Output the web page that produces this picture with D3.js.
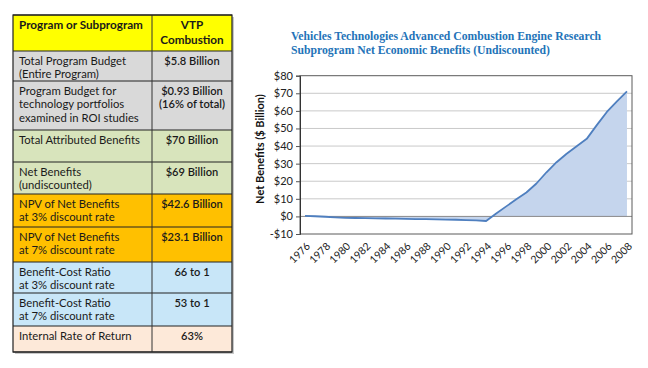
<!DOCTYPE html>
<html>
<head>
<meta charset="utf-8">
<script src="https://cdn.jsdelivr.net/npm/d3@7"></script>
<style>
  html, body { margin: 0; padding: 0; background: #ffffff; }
  svg { display: block; }
</style>
</head>
<body>
<svg id="chart" width="648" height="368"></svg>
<script>
// ---------------- DATA ----------------
const tableHeader = [["Program or Subprogram"], ["VTP", "Combustion"]];
const rowLabels = [
  ["Total Program Budget", "(Entire Program)"],
  ["Program Budget for", "technology portfolios", "examined in ROI studies"],
  ["Total Attributed Benefits"],
  ["Net Benefits", "(undiscounted)"],
  ["NPV of Net Benefits", "at 3% discount rate"],
  ["NPV of Net Benefits", "at 7% discount rate"],
  ["Benefit-Cost Ratio", "at 3% discount rate"],
  ["Benefit-Cost Ratio", "at 7% discount rate"],
  ["Internal Rate of Return"]
];
const rowValues = [
  ["$5.8 Billion"],
  ["$0.93 Billion", "(16% of total)"],
  ["$70 Billion"],
  ["$69 Billion"],
  ["$42.6 Billion"],
  ["$23.1 Billion"],
  ["66 to 1"],
  ["53 to 1"],
  ["63%"]
];
const rowGroups = ["budget", "budget", "benefits", "benefits", "npv", "npv", "ratio", "ratio", "irr"];

const chartTitle = [
  "Vehicles Technologies Advanced Combustion Engine Research",
  "Subprogram Net Economic Benefits (Undiscounted)"
];
const yAxisTitle = "Net Benefits ($ Billion)";
const years = [1976, 1977, 1978, 1979, 1980, 1981, 1982, 1983, 1984, 1985, 1986,
  1987, 1988, 1989, 1990, 1991, 1992, 1993, 1994, 1995, 1996, 1997, 1998, 1999,
  2000, 2001, 2002, 2003, 2004, 2005, 2006, 2007, 2008];
const netBenefits = [0.3, 0.1, -0.2, -0.5, -0.8, -0.9, -1.0, -1.1, -1.2, -1.3, -1.4,
  -1.5, -1.6, -1.7, -1.8, -1.9, -2.1, -2.3, -2.6, 1.7, 5.7, 9.7, 13.6, 18.7,
  25.1, 30.8, 35.6, 39.9, 44.1, 51.9, 59.4, 65.4, 71.1];
const yTicks = [-10, 0, 10, 20, 30, 40, 50, 60, 70, 80];
const xTickYears = [1976, 1978, 1980, 1982, 1984, 1986, 1988, 1990, 1992, 1994,
  1996, 1998, 2000, 2002, 2004, 2006, 2008];

// ---------------- LAYOUT / STYLE ----------------
const svg = d3.select("#chart");
const tableFont = "Lato, 'Open Sans', sans-serif";
const groupColors = {
  header: "#ffff00", budget: "#d9d9d9", benefits: "#d8e4bc",
  npv: "#ffc000", ratio: "#c8e6f8", irr: "#fde9d9"
};
const tLeft = 13, tDiv = 152, tRight = 232;
const rowTops = [15, 51, 81, 130, 162, 194, 227, 262, 293, 326, 352];
const lineStep = 13.6;

const table = svg.append("g");
// shadow
table.append("rect").attr("x", tLeft + 2).attr("y", rowTops[0] + 2)
  .attr("width", tRight - tLeft).attr("height", rowTops[rowTops.length - 1] - rowTops[0])
  .attr("fill", "#c8c8c8");

const allRows = [{ label: tableHeader[0], value: tableHeader[1], group: "header" }]
  .concat(rowLabels.map((l, i) => ({ label: l, value: rowValues[i], group: rowGroups[i] })));

allRows.forEach((r, i) => {
  const top = rowTops[i], h = rowTops[i + 1] - rowTops[i];
  table.append("rect").attr("x", tLeft).attr("y", top).attr("width", tRight - tLeft)
    .attr("height", h).attr("fill", groupColors[r.group]);
  const bold = r.group === "header";
  const weight = bold ? 700 : 400;
  table.append("text").attr("font-family", tableFont).attr("font-size", bold ? 11.7 : 11.3)
    .attr("font-weight", weight).attr("fill", "#1a1a1a")
    .selectAll("tspan").data(r.label).join("tspan")
    .attr("x", tLeft + 6).attr("y", (d, j) => top + 9.3 + j * lineStep)
    .attr("dominant-baseline", "central").text(d => d);
  table.append("text").attr("font-family", tableFont).attr("font-size", bold ? 11.7 : 11.1)
    .attr("font-weight", bold ? 700 : 600).attr("fill", "#1a1a1a")
    .attr("text-anchor", "middle")
    .selectAll("tspan").data(r.value).join("tspan")
    .attr("x", (tDiv + tRight) / 2).attr("y", (d, j) => top + 9.3 + j * (bold ? 14.5 : lineStep))
    .attr("dominant-baseline", "central").text(d => d);
});
// grid lines of the table
rowTops.forEach(t => {
  table.append("line").attr("x1", tLeft).attr("x2", tRight).attr("y1", t).attr("y2", t)
    .attr("stroke", "#222").attr("stroke-width", 1);
});
table.append("line").attr("x1", tDiv).attr("x2", tDiv).attr("y1", rowTops[0])
  .attr("y2", rowTops[rowTops.length - 1]).attr("stroke", "#333").attr("stroke-width", 1);
table.append("rect").attr("x", tLeft).attr("y", rowTops[0]).attr("width", tRight - tLeft)
  .attr("height", rowTops[rowTops.length - 1] - rowTops[0])
  .attr("fill", "none").attr("stroke", "#222").attr("stroke-width", 1.2);

// ---------------- CHART ----------------
const pL = 300, pR = 632, pT = 75.7, pB = 234;
const x = d3.scaleBand().domain(years).range([pL, pR]);
const xc = d => x(d) + x.bandwidth() / 2;
const y = d3.scaleLinear().domain([-10, 80]).range([pB, pT]);

const chart = svg.append("g");
chart.append("text").attr("font-family", "'Liberation Serif', 'DejaVu Serif', serif")
  .attr("font-weight", 700).attr("font-size", 11.7).attr("fill", "#2373b8")
  .selectAll("tspan").data(chartTitle).join("tspan")
  .attr("x", 291).attr("y", (d, i) => 40 + i * 13.5).text(d => d);

// gridlines
chart.append("g").selectAll("line").data(yTicks.filter(t => t !== 0 && t !== -10 && t !== 80)).join("line")
  .attr("x1", pL).attr("x2", pR).attr("y1", d => y(d)).attr("y2", d => y(d))
  .attr("stroke", "#c9c9c9").attr("stroke-width", 1);

// area + line
const series = years.map((yr, i) => ({ yr, v: netBenefits[i] }));
chart.append("path").datum(series)
  .attr("d", d3.area().x(d => xc(d.yr)).y0(y(0)).y1(d => y(d.v)))
  .attr("fill", "#c5d5ed");
chart.append("line").attr("x1", pL).attr("x2", pR).attr("y1", y(0)).attr("y2", y(0))
  .attr("stroke", "#8a8a8a").attr("stroke-width", 1);
chart.append("path").datum(series)
  .attr("d", d3.line().x(d => xc(d.yr)).y(d => y(d.v)))
  .attr("fill", "none").attr("stroke", "#4f7fbf").attr("stroke-width", 1.8)
  .attr("stroke-linejoin", "round");

// plot border
chart.append("rect").attr("x", pL).attr("y", pT).attr("width", pR - pL).attr("height", pB - pT)
  .attr("fill", "none").attr("stroke", "#5a5a5a").attr("stroke-width", 1);

// y axis
const yAxis = d3.axisLeft(y).tickValues(yTicks).tickSize(4).tickPadding(3)
  .tickFormat(d => (d < 0 ? "-$" : "$") + Math.abs(d));
const yg = chart.append("g").attr("transform", `translate(${pL},0)`).call(yAxis);
yg.select(".domain").attr("stroke", "#333");
yg.selectAll(".tick line").attr("stroke", "#555");
yg.selectAll("text").attr("font-family", "Lato, sans-serif").attr("font-size", 11).attr("fill", "#222");

chart.append("text").attr("transform", "translate(259,149) rotate(-90)")
  .attr("text-anchor", "middle").attr("dominant-baseline", "central")
  .attr("font-family", "Lato, sans-serif").attr("font-weight", 700).attr("font-size", 11)
  .attr("fill", "#111").text(yAxisTitle);

// x labels
chart.append("g").selectAll("text").data(xTickYears).join("text")
  .attr("transform", d => `translate(${xc(d) + 3},${pB + 10}) rotate(-45)`)
  .attr("text-anchor", "end").attr("dominant-baseline", "central")
  .attr("font-family", "Lato, sans-serif").attr("font-size", 10.5).attr("fill", "#222")
  .text(d => d);
</script>
</body>
</html>
